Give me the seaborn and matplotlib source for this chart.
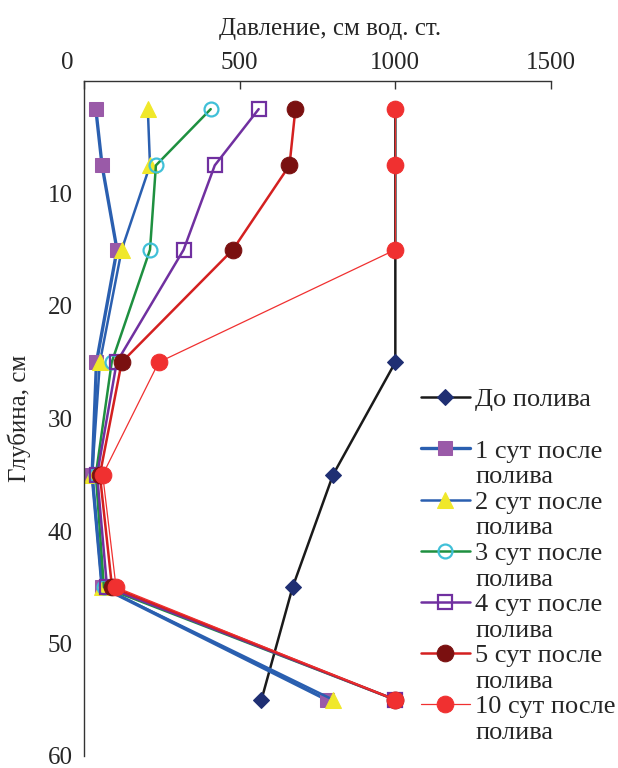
import matplotlib
matplotlib.use("Agg")
import matplotlib.pyplot as plt
import matplotlib.transforms as mtransforms
from matplotlib.lines import Line2D
import seaborn as sns

# depth of measurement, cm
depth = [2.5, 7.5, 15, 25, 35, 45, 55]

# pressure, cm of water
before = [1000, 1000, 1000, 1000, 800, 670, 570]
day1 = [38, 58, 106, 40, 26, 58, 780]
day2 = [205, 212, 121, 51, 26, 58, 800]
day3 = [407, 231, 212, 89, 38, 64, 1000]
day4 = [561, 420, 320, 105, 42, 74, 1000]
day5 = [679, 660, 478, 121, 51, 90, 1000]
day10 = [1000, 1000, 1000, 240, 60, 103, 1000]

labels = ["До полива", "1 сут после", "2 сут после", "3 сут после",
          "4 сут после", "5 сут после", "10 сут после"]

sns.set_style("white")
plt.rcParams["font.family"] = ["Liberation Serif", "DejaVu Serif"]
plt.rcParams["font.size"] = 18

fig = plt.figure(figsize=(6.18, 7.68), dpi=100)
ax = fig.add_axes([84 / 618, 1 - 756 / 768, (551 - 84) / 618, (756 - 81) / 768])

styles = [
    (before, dict(color="#1a1a1a", lw=1.8, marker="D", ms=8, mfc="#1f2f73", mec="#1f2f73")),
    (day1, dict(color="#2a5fb0", lw=2.4, marker="s", ms=10, mfc="#9a5aa8", mec="#9a5aa8")),
    (day2, dict(color="#2a5fb0", lw=1.8, marker="^", ms=12, mfc="#f0e82a", mec="#f0e82a")),
    (day3, dict(color="#1e9040", lw=1.8, marker="o", ms=10, mfc="none", mec="#40c0d8", mew=1.6)),
    (day4, dict(color="#7030a0", lw=1.8, marker="s", ms=10, mfc="none", mec="#7030a0", mew=1.6)),
    (day5, dict(color="#d42020", lw=1.8, marker="o", ms=12, mfc="#7a1010", mec="#7a1010")),
    (day10, dict(color="#f03030", lw=0.9, marker="o", ms=12, mfc="#f03030", mec="#f03030")),
]

for (vals, kw), lab in zip(styles, labels):
    sns.lineplot(x=vals, y=depth, sort=False, estimator=None, ax=ax,
                 label=lab, **kw)

ax.set_xlim(0, 1500)
ax.set_ylim(60, 0)
ax.set_xticks([0, 500, 1000, 1500])
ax.set_yticks([10, 20, 30, 40, 50, 60])
ax.xaxis.tick_top()
ax.xaxis.set_label_position("top")
ax.tick_params(axis="both", direction="in", length=6, width=1, color="#333333",
               labelsize=18)
ax.tick_params(axis="x", pad=5)
ax.tick_params(axis="y", pad=8)
for side in ["right", "bottom"]:
    ax.spines[side].set_visible(False)
for side in ["left", "top"]:
    ax.spines[side].set_color("#333333")
    ax.spines[side].set_linewidth(1)

# the "0" label sits left of the axis corner in the original
zero = ax.get_xticklabels()[0]
zero.set_transform(zero.get_transform() +
                   mtransforms.ScaledTranslation(-17 / 100, 0, fig.dpi_scale_trans))

ax.set_xlabel("Давление, см вод. ст.", fontsize=18)
ax.set_ylabel("Глубина, см", fontsize=18)
ax.xaxis.set_label_coords(0.527, 1.068)
ax.yaxis.set_label_coords(-0.113, 0.5)

# legend: each label on two rows like the original, second row without a handle
handles, labs = ax.get_legend_handles_labels()
blank = Line2D([], [], color="none")
leg_h, leg_l = [], []
for i, (h, l) in enumerate(zip(handles, labs)):
    leg_h.append(h)
    leg_l.append(l)
    leg_h.append(blank)
    leg_l.append(" " if i == 0 else "полива")
ax.legend(leg_h, leg_l, loc="upper left", bbox_to_anchor=(421 / 618, 1 - 388 / 768),
          bbox_transform=fig.transFigure, frameon=False, fontsize=19,
          handlelength=1.85, handletextpad=0.2, labelspacing=0.08, borderpad=0,
          borderaxespad=0)

fig.savefig("out.png", dpi=100)
